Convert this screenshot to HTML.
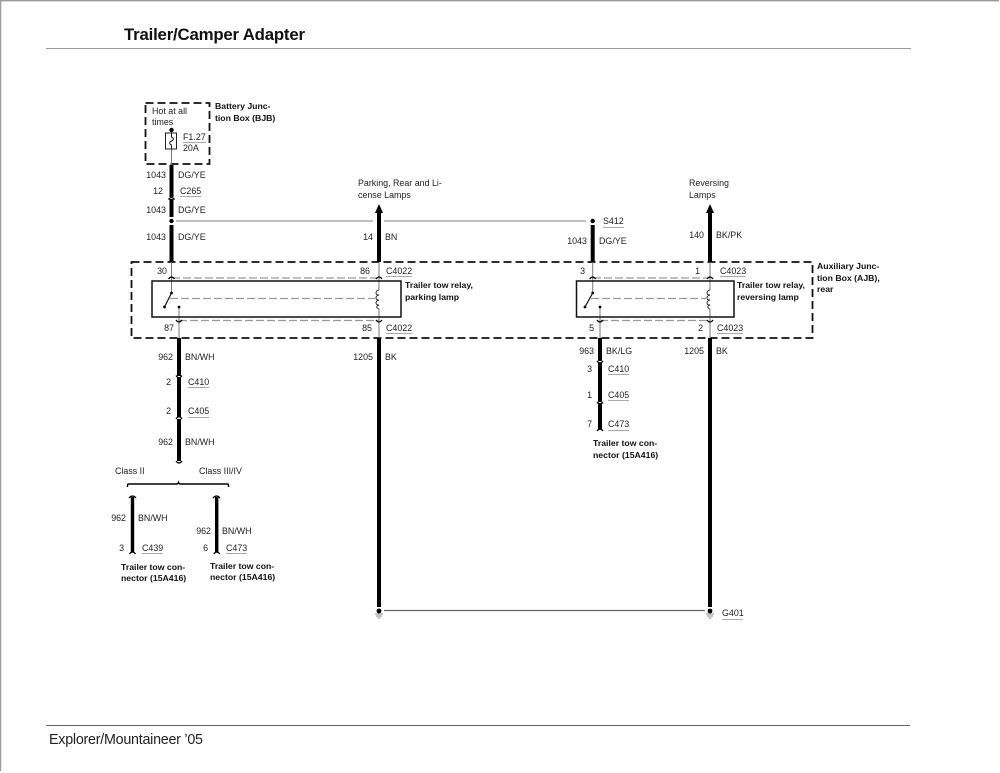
<!DOCTYPE html>
<html>
<head>
<meta charset="utf-8">
<style>
html,body{margin:0;padding:0;background:#fff;width:1000px;height:773px;overflow:hidden}
svg{display:block}
text{font-family:"Liberation Sans",sans-serif;font-size:8.9px;fill:#222}
.b{font-weight:bold;fill:#111;font-size:8.7px}
.r{text-anchor:end}
.thick{stroke:#000;stroke-width:4;fill:none}
.thin{stroke:#777;stroke-width:1;fill:none}
.gl{stroke:#999;stroke-width:1.3;fill:none}
.dash{stroke:#111;stroke-width:1.8;fill:none;stroke-dasharray:8 4}
.gd{stroke:#999;stroke-width:1.2;fill:none;stroke-dasharray:8 3}
.cap{stroke:#000;stroke-width:1.3;fill:none}
.u{stroke:#aaa;stroke-width:1;fill:none}
</style>
</head>
<body>
<svg width="1000" height="773" viewBox="0 0 1000 773" xmlns="http://www.w3.org/2000/svg">
<rect x="0" y="0" width="1000" height="773" fill="#fff"/>
<path d="M0.5 771V0.7H999" fill="none" stroke="#999" stroke-width="1.4"/>
<path d="M46 48.500H911" stroke="#999" stroke-width="1"/>
<path d="M46 725.500H910" stroke="#666" stroke-width="1"/>
<text x="124" y="40" class="b" style="font-size:16.8px" textLength="181" lengthAdjust="spacing">Trailer/Camper Adapter</text>
<text x="49" y="744" style="font-size:14.3px" textLength="154" lengthAdjust="spacing">Explorer/Mountaineer ’05</text>

<!-- dashed boxes -->
<rect x="145.500" y="103" width="64" height="61" class="dash" stroke-dasharray="7 4"/>
<rect x="131.500" y="262" width="681" height="76" class="dash"/>

<!-- fuse -->
<path d="M171.500 130V165" class="thin"/>
<circle cx="171.500" cy="130" r="2.2" fill="#000"/>
<rect x="165.500" y="133" width="11" height="16" fill="#fff" stroke="#222" stroke-width="1"/>
<path d="M171.500 133V137C174 138 174 140 171.500 141C169 142 169 144 171.500 145V149" fill="none" stroke="#222" stroke-width="1"/>
<path d="M183 142.500H206" class="u"/>

<!-- wires left -->
<path d="M171.500 165V197M171.500 199V217M171.500 225V262" class="thick"/>
<path d="M168.500 199.500Q171.500 195.500 174.500 199.500" class="cap"/>
<circle cx="171.500" cy="221" r="2.2" fill="#000"/>
<path d="M176 221H373M384 221H586" class="gl"/>
<circle cx="592.700" cy="221" r="2.2" fill="#000"/>
<path d="M592.700 225V262" class="thick"/>

<!-- arrows -->
<path d="M379 212V262" class="thick"/>
<path d="M379 204L375 213H383Z" fill="#000"/>
<path d="M710 212V262" class="thick"/>
<path d="M710 204L706 213H714Z" fill="#000"/>

<!-- thin through AJB -->
<path d="M171.500 262V293M379 262V290M379 309V338M179 307V338M592.700 262V293M710 262V290M710 309V338M600 307V338" class="thin"/>

<!-- relays -->
<rect x="152" y="281" width="249" height="36" fill="none" stroke="#111" stroke-width="1.5"/>
<rect x="576.500" y="281" width="157.500" height="36" fill="none" stroke="#111" stroke-width="1.5"/>

<!-- connector dashed -->
<path d="M172 278H379M179 320.500H379M593 278H710M600 320.500H710" class="gd"/>
<path d="M170 298.500H375M591 298.500H706" class="gd"/>

<!-- caps -->
<path d="M168.500 279Q171.500 275 174.500 279M376 279Q379 275 382 279M589.700 279Q592.700 275 595.700 279M707 279Q710 275 713 279" class="cap"/>
<path d="M176 320Q179 324 182 320M376 320Q379 324 382 320M597 320Q600 324 603 320M707 320Q710 324 713 320" class="cap"/>

<!-- switches -->
<path d="M171.500 293L164.500 307" stroke="#111" stroke-width="1.2"/>
<circle cx="171.500" cy="293" r="1.4" fill="#000"/>
<circle cx="164.500" cy="307" r="1.4" fill="#000"/>
<circle cx="179" cy="307" r="1.4" fill="#000"/>
<path d="M592.700 293L585 307" stroke="#111" stroke-width="1.2"/>
<circle cx="592.700" cy="293" r="1.4" fill="#000"/>
<circle cx="585" cy="307" r="1.4" fill="#000"/>
<circle cx="600" cy="307" r="1.4" fill="#000"/>

<!-- coils -->
<path d="M379 290C375 291 375 295 379 295C375 296 375 300 379 300C375 301 375 305 379 305C376 306 376 308 379 309" fill="none" stroke="#333" stroke-width="1"/>
<path d="M710 290C706 291 706 295 710 295C706 296 706 300 710 300C706 301 706 305 710 305C707 306 707 308 710 309" fill="none" stroke="#333" stroke-width="1"/>

<!-- lower wires -->
<path d="M179 338V376M179 378V417M179 419V461" class="thick"/>
<path d="M176 375.500Q179 380 182 375.500M176 419Q179 414.500 182 419M176 461Q179 465 182 461" class="cap"/>
<path d="M379 338V607M710 338V607" class="thick"/>
<path d="M600 338V361M600 363V401M600 403V429" class="thick"/>
<path d="M597 361Q600 365 603 361M597 403.500Q600 399 603 403.500M597 431Q600 427 603 431" class="cap"/>

<!-- branch -->
<path d="M127.500 487V485Q127.500 484 129 484H176.500Q178 484 178.500 482.500Q179 484 180.500 484H227Q228.500 484 228.500 485V487" fill="none" stroke="#000" stroke-width="1.4"/>
<path d="M132.500 497V552M216.700 497V552" class="thick" style="stroke-width:3.4"/>
<path d="M129 498Q132.500 494 136 498M213 498Q216.700 494 220 498M129.500 554Q132.500 550 135.500 554M213.700 554Q216.700 550 219.700 554" class="cap"/>

<!-- ground -->
<path d="M384 610.500H705" stroke="#666" stroke-width="1.2"/>
<circle cx="379" cy="611" r="2.4" fill="#000"/>
<circle cx="710" cy="611" r="2.4" fill="#000"/>
<path d="M375 614H383M376 616H382M377.500 618H380.500M706 614H714M707 616H713M708.500 618H711.500" stroke="#888" stroke-width="1"/>

<!-- underlines -->
<path d="M180 196.500H201M603 227.500H624M386 276.500H412M720 276.500H746M386 333.500H412M717 333.500H743M188 387.500H209M188 417.500H209M142 553.500H163M226 553.500H247M608 374.500H629M608 400.500H629M608 430.500H629M722 619.500H743" class="u"/>

<!-- labels -->
<text x="152" y="114">Hot at all</text>
<text x="152" y="125">times</text>
<text x="183" y="140">F1.27</text>
<text x="183" y="151">20A</text>
<text x="215" y="109" class="b">Battery Junc-</text>
<text x="215" y="121" class="b">tion Box (BJB)</text>
<text x="166" y="178" class="r">1043</text><text x="178" y="178">DG/YE</text>
<text x="163" y="194" class="r">12</text><text x="180" y="194">C265</text>
<text x="166" y="213" class="r">1043</text><text x="178" y="213">DG/YE</text>
<text x="166" y="240" class="r">1043</text><text x="178" y="240">DG/YE</text>
<text x="358" y="186">Parking, Rear and Li-</text>
<text x="358" y="198">cense Lamps</text>
<text x="373" y="240" class="r">14</text><text x="385" y="240">BN</text>
<text x="603" y="224">S412</text>
<text x="587" y="244" class="r">1043</text><text x="599" y="244">DG/YE</text>
<text x="689" y="186">Reversing</text>
<text x="689" y="198">Lamps</text>
<text x="704" y="238" class="r">140</text><text x="716" y="238">BK/PK</text>
<text x="167" y="274" class="r">30</text>
<text x="370" y="274" class="r">86</text><text x="386" y="274">C4022</text>
<text x="585" y="274" class="r">3</text>
<text x="700" y="274" class="r">1</text><text x="720" y="274">C4023</text>
<text x="405" y="288" class="b">Trailer tow relay,</text>
<text x="405" y="300" class="b">parking lamp</text>
<text x="737" y="288" class="b">Trailer tow relay,</text>
<text x="737" y="300" class="b">reversing lamp</text>
<text x="817" y="269" class="b">Auxiliary Junc-</text>
<text x="817" y="281" class="b">tion Box (AJB),</text>
<text x="817" y="292" class="b">rear</text>
<text x="174" y="331" class="r">87</text>
<text x="372" y="331" class="r">85</text><text x="386" y="331">C4022</text>
<text x="594" y="331" class="r">5</text>
<text x="703" y="331" class="r">2</text><text x="717" y="331">C4023</text>
<text x="173" y="360" class="r">962</text><text x="185" y="360">BN/WH</text>
<text x="373" y="360" class="r">1205</text><text x="385" y="360">BK</text>
<text x="594" y="354" class="r">963</text><text x="606" y="354">BK/LG</text>
<text x="704" y="354" class="r">1205</text><text x="716" y="354">BK</text>
<text x="171" y="385" class="r">2</text><text x="188" y="385">C410</text>
<text x="171" y="414" class="r">2</text><text x="188" y="414">C405</text>
<text x="173" y="445" class="r">962</text><text x="185" y="445">BN/WH</text>
<text x="115" y="474">Class II</text>
<text x="199" y="474">Class III/IV</text>
<text x="126" y="521" class="r">962</text><text x="138" y="521">BN/WH</text>
<text x="124" y="551" class="r">3</text><text x="142" y="551">C439</text>
<text x="211" y="534" class="r">962</text><text x="222" y="534">BN/WH</text>
<text x="208" y="551" class="r">6</text><text x="226" y="551">C473</text>
<text x="121" y="570" class="b">Trailer tow con-</text>
<text x="121" y="581" class="b">nector (15A416)</text>
<text x="210" y="569" class="b">Trailer tow con-</text>
<text x="210" y="580" class="b">nector (15A416)</text>
<text x="592" y="372" class="r">3</text><text x="608" y="372">C410</text>
<text x="592" y="398" class="r">1</text><text x="608" y="398">C405</text>
<text x="592" y="427" class="r">7</text><text x="608" y="427">C473</text>
<text x="593" y="446" class="b">Trailer tow con-</text>
<text x="593" y="458" class="b">nector (15A416)</text>
<text x="722" y="616">G401</text>
</svg>
</body>
</html>
